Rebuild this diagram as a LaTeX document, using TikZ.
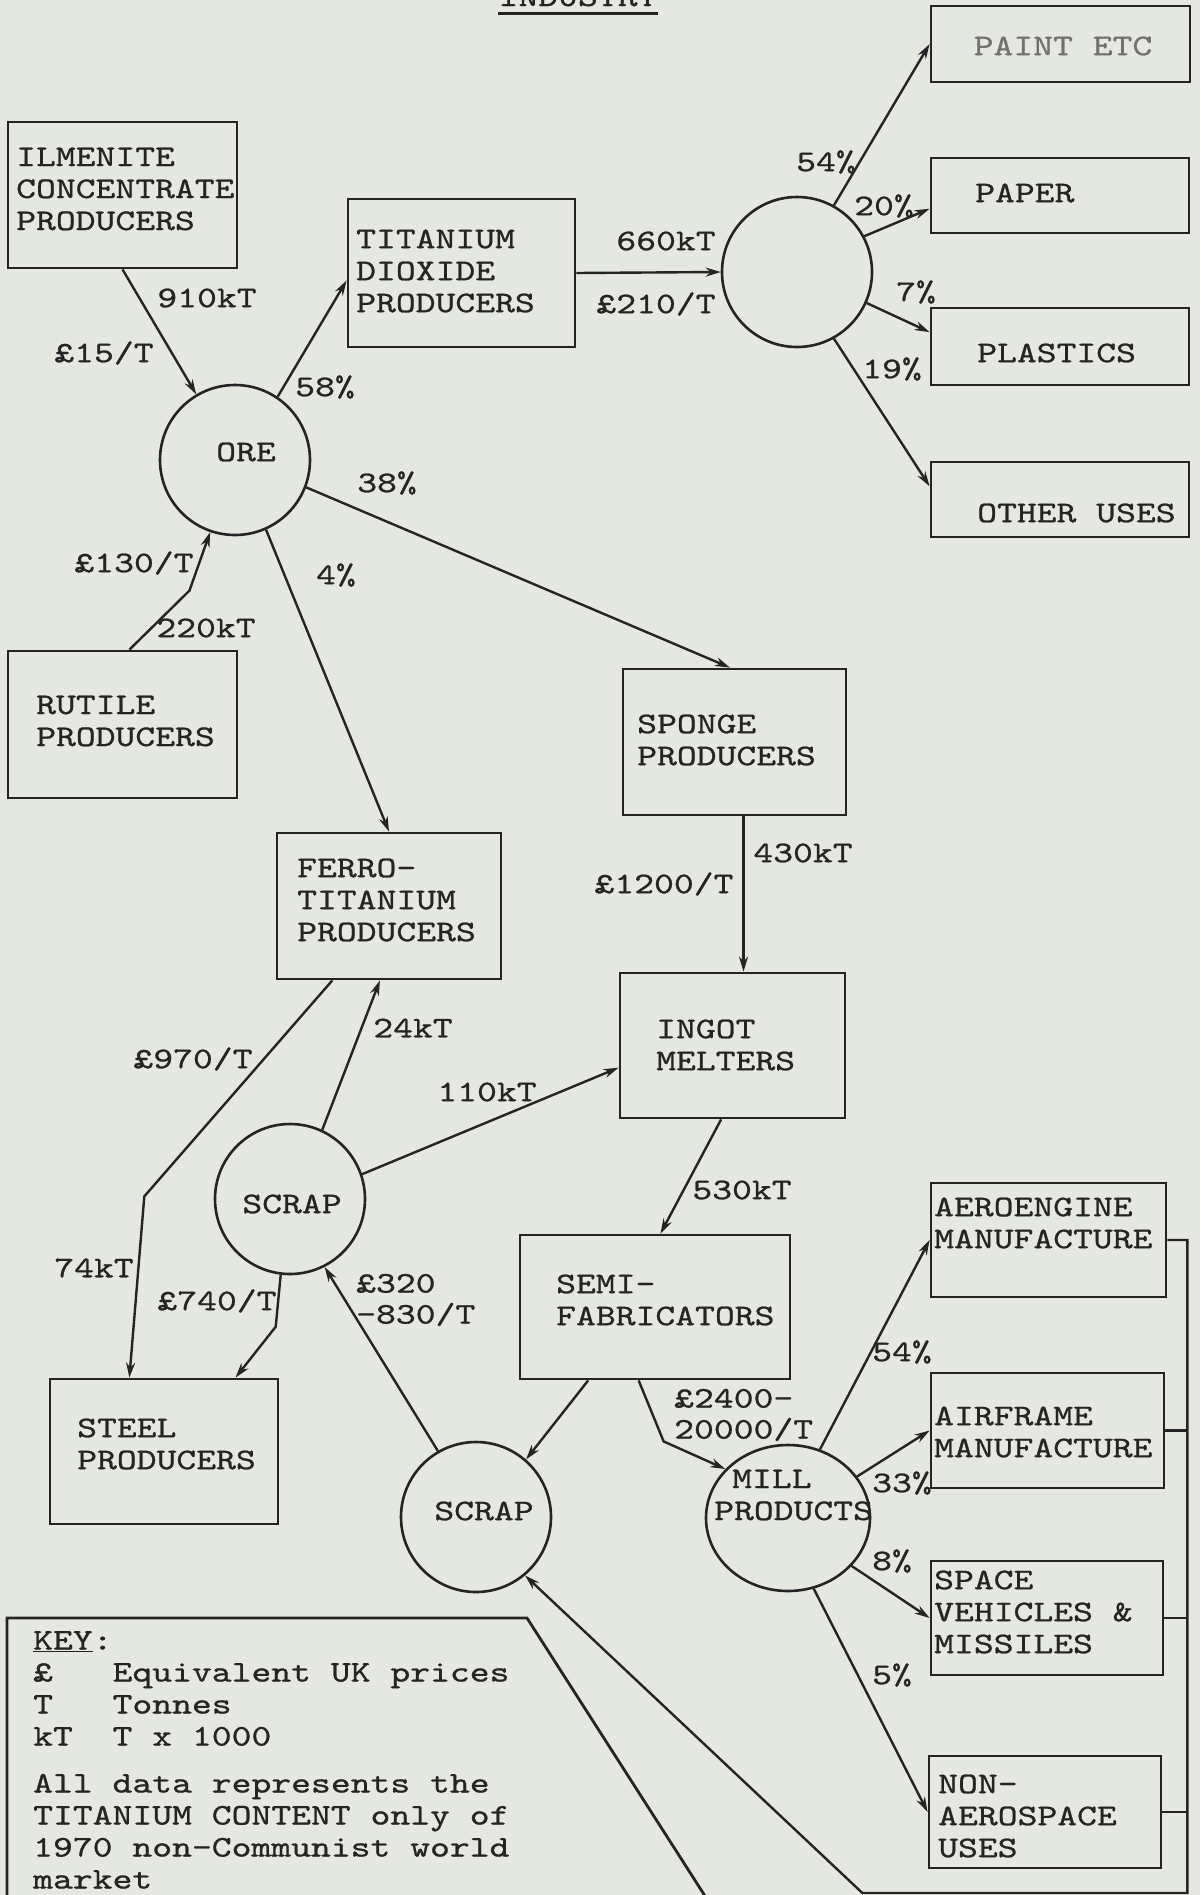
\documentclass[tikz,border=0pt]{standalone}
\usepackage{fontspec}
\usetikzlibrary{arrows.meta,calc,shapes.geometric}
% wide serif typewriter face
\newfontfamily\tw{lmmono10-regular}[Extension=.otf, FakeStretch=1.26, FakeBold=0.8]
\definecolor{paper}{RGB}{229,231,225}
\definecolor{ink}{RGB}{36,36,36}

\tikzset{
  box/.style={draw=ink, line width=2.8pt, rectangle, inner sep=0pt},
  ring/.style={draw=ink, line width=2.6pt, circle, minimum size=150pt, inner sep=0pt},
  txt/.style={font=\tw\fontsize{30}{32}\selectfont, text=ink, inner sep=0pt, align=left, anchor=west},
  lab/.style={font=\tw\fontsize{30}{31}\selectfont, text=ink, inner sep=0pt, align=left},
  arr/.style={draw=ink, line width=2.4pt, line join=miter, -{Stealth[length=15pt,width=9pt]}},
  ln/.style={draw=ink, line width=2.4pt, line join=miter},
}

\begin{document}
\begin{tikzpicture}[x=1pt,y=-1pt]
\useasboundingbox[fill=paper] (0,0) rectangle (1200,1895);

% heading, cut by the top edge, with its rule
\node[lab, anchor=base] (title) at (578,6) {INDUSTRY};
\draw[ink, line width=3pt] ([yshift=-7pt]title.base west) -- ([yshift=-7pt]title.base east);

% ---------- boxes ----------
\node[box, minimum width=229pt, minimum height=146pt] (ilm)    at (122.5,195)   {};
\node[box, minimum width=227pt, minimum height=148pt] (tio2)   at (461.5,273)   {};
\node[box, minimum width=259pt, minimum height=76pt]  (paint)  at (1060.5,44)   {};
\node[box, minimum width=258pt, minimum height=75pt]  (paperb) at (1060,195.5)  {};
\node[box, minimum width=258pt, minimum height=77pt]  (plast)  at (1060,346.5)  {};
\node[box, minimum width=258pt, minimum height=75pt]  (other)  at (1060,499.5)  {};
\node[box, minimum width=229pt, minimum height=147pt] (rutile) at (122.5,724.5) {};
\node[box, minimum width=223pt, minimum height=146pt] (sponge) at (734.5,742)   {};
\node[box, minimum width=224pt, minimum height=146pt] (ferro)  at (389,906)     {};
\node[box, minimum width=225pt, minimum height=145pt] (ingot)  at (732.5,1045.5){};
\node[box, minimum width=270pt, minimum height=144pt] (semi)   at (655,1307)    {};
\node[box, minimum width=228pt, minimum height=145pt] (steel)  at (164,1451.5)  {};
\node[box, minimum width=235pt, minimum height=114pt] (aero)   at (1048.5,1240) {};
\node[box, minimum width=233pt, minimum height=115pt] (airf)   at (1047.5,1430.5){};
\node[box, minimum width=232pt, minimum height=114pt] (space)  at (1047,1618)   {};
\node[box, minimum width=232pt, minimum height=112pt] (nonaero) at (1045,1812)  {};

% ---------- circles ----------
\node[ring] (ore)    at (235,460)  {};
\node[ring] (mkt)    at (797,272)  {};
\node[ring] (scrapa) at (290,1199) {};
\node[ring] (scrapb) at (476,1517) {};
\node[draw=ink, line width=2.6pt, ellipse, minimum width=164pt, minimum height=146pt, inner sep=0pt] (mill) at (788,1518) {};

% ---------- texts in the shapes ----------
\node[txt] (ilmT)    at (16,189)   {ILMENITE\\CONCENTRATE\\PRODUCERS};
\node[txt] (tio2T)   at (356,271)  {TITANIUM\\DIOXIDE\\PRODUCERS};
\node[lab, text=ink!65] (paintT) at (1063,46) {PAINT ETC};
\node[txt] (paperT)  at (975,193)  {PAPER};
\node[txt] (plastT)  at (977,353)  {PLASTICS};
\node[txt] (otherT)  at (977,513)  {OTHER USES};
\node[txt, anchor=center] (oreT) at (246,452) {ORE};
\node[txt] (rutileT) at (36,721)   {RUTILE\\PRODUCERS};
\node[txt] (spongeT) at (637,740)  {SPONGE\\PRODUCERS};
\node[txt] (ferroT)  at (297,900)  {FERRO-\\TITANIUM\\PRODUCERS};
\node[txt] (ingotT)  at (656,1045) {INGOT\\MELTERS};
\node[txt, anchor=center] (scrapaT) at (292,1204) {SCRAP};
\node[txt] (semiT)   at (556,1300) {SEMI-\\FABRICATORS};
\node[txt] (steelT)  at (77,1444)  {STEEL\\PRODUCERS};
\node[txt, anchor=center] (scrapbT) at (484,1511) {SCRAP};
\node[txt] (millT)   at (714,1495) {\hspace*{18pt}MILL\\PRODUCTS};
\node[txt] (aeroT)   at (934,1223) {AEROENGINE\\MANUFACTURE};
\node[txt] (airfT)   at (934,1432) {AIRFRAME\\MANUFACTURE};
\node[txt] (spaceT)  at (934,1612) {SPACE\\VEHICLES \&\\MISSILES};
\node[txt] (nonaeroT) at (938,1816) {NON-\\AEROSPACE\\USES};

% ---------- connectors ----------
\draw[arr] (ilm.south) -- (ore);
\draw[arr] ($(rutile.north west)!0.53!(rutile.north east)$) -- ++(60,-59) -- (ore.251);
\draw[arr] (ore.56) -- ($(tio2.north west)!0.55!(tio2.south west)$);
\draw[arr] (tio2.east) -- (mkt.west);
\draw[arr] (mkt.61)  -- (paint.west);
\draw[arr] (mkt.28)  -- ($(paperb.north west)!0.67!(paperb.south west)$);
\draw[arr] (mkt.-24) -- ($(plast.north west)!0.32!(plast.south west)$);
\draw[arr] (mkt.-61) -- ($(other.north west)!0.33!(other.south west)$);
\draw[arr] (ore.-21) -- ($(sponge.north west)!0.48!(sponge.north east)$);
\draw[arr] (ore.-66) -- (ferro.north);
\draw[arr] ($(sponge.south west)!0.54!(sponge.south east)$) coordinate (sp)
           -- (sp |- ingot.north);
\draw[arr] ($(ferro.south west)!0.25!(ferro.south east)$) -- ++(-188,216)
           -- ($(steel.north west)!0.35!(steel.north east)$);
\draw[arr] (scrapa.65) -- ($(ferro.south west)!0.46!(ferro.south east)$);
\draw[arr] (scrapa.19) -- ($(ingot.north west)!0.65!(ingot.south west)$);
\draw[arr] (scrapa.263) -- ++(-5,52) -- ($(steel.north west)!0.81!(steel.north east)$);
\draw[arr] ($(ingot.south west)!0.45!(ingot.south east)$) -- ($(semi.north west)!0.52!(semi.north east)$);
\draw[arr] ($(semi.south west)!0.44!(semi.south east)$) -- ++(25,61) -- (mill.142);
\draw[arr] ($(semi.south west)!0.255!(semi.south east)$) -- (scrapb.49);
\draw[arr] (scrapb.120) -- (scrapa.297);
\draw[arr] (mill.65)  -- (aero.west);
\draw[arr] (mill.31)  -- (airf.west);
\draw[arr] (mill.-37) -- (space.west);
\draw[arr] (mill.-70) -- (nonaero.west);

% return line collecting the four users
\draw[arr] (aero.east) -- ++(20,0) coordinate (bus) -- ++(0,653) -- ++(-325,0) -- (scrapb.-50);
\draw[ln] (airf.east) -- (airf.east -| bus);
\draw[ln] (space.east) -- (space.east -| bus);
\draw[ln] (nonaero.east) -- (nonaero.east -| bus);

% ---------- flow labels ----------
\node[lab] (l910)  at (207,298)  {910kT};
\node[lab] (l15)   at (104,353)  {£15/T};
\node[lab] (l58)   at (325,387)  {58\%};
\node[lab] (l38)   at (387,483)  {38\%};
\node[lab] (l130)  at (134,563)  {£130/T};
\node[lab] (l220)  at (206,628)  {220kT};
\node[lab] (l4)    at (336,575)  {4\%};
\node[lab] (l660)  at (666,241)  {660kT};
\node[lab] (l210)  at (656,304)  {£210/T};
\node[lab] (l54a)  at (826,162)  {54\%};
\node[lab] (l20)   at (884,206)  {20\%};
\node[lab] (l7)    at (916,292)  {7\%};
\node[lab] (l19)   at (892,369)  {19\%};
\node[lab] (l430)  at (803,853)  {430kT};
\node[lab] (l1200) at (664,884)  {£1200/T};
\node[lab] (l24)   at (413,1028) {24kT};
\node[lab] (l970)  at (193,1059) {£970/T};
\node[lab] (l110)  at (487,1092) {110kT};
\node[lab] (l74)   at (94,1268)  {74kT};
\node[lab] (l740)  at (217,1301) {£740/T};
\node[lab, anchor=west] (l320) at (356,1300) {£320\\-830/T};
\node[lab] (l530)  at (742,1190) {530kT};
\node[lab, anchor=west] (l2400) at (674,1415) {£2400-\\20000/T};
\node[lab] (l54b)  at (902,1352) {54\%};
\node[lab] (l33)   at (902,1483) {33\%};
\node[lab] (l8)    at (892,1561) {8\%};
\node[lab] (l5)    at (892,1675) {5\%};

% ---------- key panel ----------
\draw[line width=2.8pt, draw=ink, line join=miter] (7,1910) -- (7,1618) -- (527,1618) -- (714,1910);
\node[txt, anchor=north west] (keyT) at (33,1631)
  {\underline{KEY}:\\
   £\ \ \ Equivalent UK prices\\
   T\ \ \ Tonnes\\
   kT\ \ T x 1000\\[15pt]
   All data represents the\\
   TITANIUM CONTENT only of\\
   1970 non-Communist world\\
   market};
\end{tikzpicture}
\end{document}
